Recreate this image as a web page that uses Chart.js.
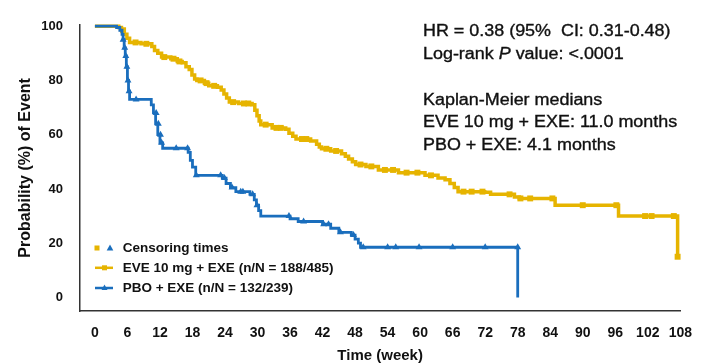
<!DOCTYPE html>
<html><head><meta charset="utf-8">
<script src="https://cdn.jsdelivr.net/npm/chart.js@4/dist/chart.umd.min.js"></script>
<style>html,body{margin:0;padding:0;background:#fff;}#wrap{position:relative;width:706px;height:363px;}canvas{display:block;}</style>
</head><body><div id="wrap"><canvas id="c" width="706" height="363"></canvas></div>
<script>
// ---- data (weeks, % ) ----
const xTickValues = [0,6,12,18,24,30,36,42,48,54,60,66,72,78,84,90,96,102,108];
const yTickValues = [0,20,40,60,80,100];

const eveTimes = [0,4.4,4.9,5.4,5.9,6.4,8.5,10.5,11.0,11.6,12.3,14.0,15.2,16.1,16.8,17.4,17.9,18.4,18.8,20.2,21.0,22.6,23.3,23.8,24.3,24.8,26.5,29.0,29.5,29.9,30.3,30.6,32.7,35.2,35.8,36.5,37.1,39.8,40.9,41.4,41.8,43.5,45.5,46.2,46.8,47.5,48.1,50.0,52.3,56.0,60.9,63.3,64.6,65.5,66.3,67.0,71.9,73.0,77.4,78.3,84.9,96.6,107.5];
const eveSurv  = [100,99.5,98.5,97,95.5,94,93.5,92.5,91,90,88.6,88,87,86.5,85,84,82,80.5,80,79,78,77.5,76.5,75,73.5,72,71.5,71,69,67,65,63.7,62.5,62,60.5,59.4,58.4,57.7,56.5,55.5,54.8,54,53,52,51,50,49,48.3,47,46,45,44,43.4,42,40.5,39,38.8,38,37,36.5,34,30,15];

const pboTimes = [0,4,4.6,5.0,5.2,5.4,5.6,5.8,6.0,6.2,6.4,10.4,10.8,11.2,11.6,12.0,12.5,17.2,17.6,18.0,18.6,23.5,24.2,25.0,26.0,28.6,29.4,29.8,30.2,30.6,36.0,37.5,42.0,43.5,45.0,47.3,48.0,48.6,49.0,78.0];
const pboSurv  = [100,99.5,98.5,97,95,92,89,85,80,76,73,71,68,64,60,57,55,53.5,50.5,48,45,44,42,40.5,39,38,36,34,32,30,29,28,27,25.5,24,23,21.5,20,18.5,0];

const eveCensorTimes = [5.2,7.5,9.5,12.8,14.5,15.6,19.5,20.6,22,25.5,27.5,28.3,31.5,33.5,34.3,38.2,39,42.7,44.5,49,51,53.5,55,57.5,59.5,62,68,69.5,71.5,76.5,78.5,80.3,84.4,90,96.2,101.5,102.7,106.8,107.5];
const eveCensorSurv  = [98.5,94,93.5,88.6,88,87,80,79,78,72,71.5,71.5,63.7,62.5,62.5,58.4,58.4,54.8,54,49,48.3,47,47,46,46,45,39,39,39,38,36.5,36.5,36.5,34,34,30,30,30,15];

const pboCensorTimes = [5.2,5.5,5.7,5.9,6.1,6.3,7.6,11.3,11.7,12.1,12.3,15,17.1,18.7,23.2,23.9,25.3,26.9,27.3,29.1,29.9,35.8,38.5,42.2,43.1,45.3,47.7,49.5,54,55.5,59.8,66,72,78];
const pboCensorSurv  = [95,92,89,85,80,76,73,68,64,60,57,55,55,45,45,44,40.5,39,39,38,34,30,28,27,27,24,23,18.5,18.5,18.5,18.5,18.5,18.5,18.5];

const seriesLabels = ['EVE 10 mg + EXE (n/N = 188/485)', 'PBO + EXE (n/N = 132/239)'];
const censorLabel = 'Censoring times';
const annotationLines = ['HR = 0.38 (95%  CI: 0.31-0.48)', 'Log-rank |P| value: <.0001', '', 'Kaplan-Meier medians', 'EVE 10 mg + EXE: 11.0 months', 'PBO + EXE: 4.1 months'];

const YEL = '#E6B400', BLU = '#1A6EBD', TXT = '#111111';
const zip = (xs, ys) => xs.map((x, i) => ({x, y: ys[i]}));

const overlay = {
  id: 'overlay',
  afterDraw(chart) {
    const ctx = chart.ctx;
    ctx.save();
    // annotation block
    const ax = 423, ay0 = 31.7, lh = 22.4, sx = 1.12;
    ctx.fillStyle = TXT; ctx.strokeStyle = TXT; ctx.lineWidth = 0.35;
    ctx.textBaseline = 'middle'; ctx.textAlign = 'left';
    annotationLines.forEach((line, i) => {
      if (!line) return;
      const y = ay0 + i * lh + (i >= 3 ? 1.5 : 0);
      ctx.save(); ctx.translate(ax, y); ctx.scale(sx, 1);
      let x = 0;
      line.split('|').forEach((part, k) => {
        ctx.font = (k % 2 ? 'italic ' : '') + '16px "Liberation Sans", Arial, sans-serif';
        ctx.fillText(part, x, 0);
        ctx.strokeText(part, x, 0);
        x += ctx.measureText(part).width;
      });
      ctx.restore();
    });
    // legend
    ctx.font = 'bold 13.5px "Liberation Sans", Arial, sans-serif';
    const tx = 122.7, rows = [248, 267.8, 288];
    ctx.fillStyle = YEL; ctx.fillRect(94.5, rows[0] - 2.5, 5, 5);
    ctx.fillStyle = BLU; ctx.beginPath();
    ctx.moveTo(110, rows[0] - 3.5); ctx.lineTo(113.3, rows[0] + 2.5); ctx.lineTo(106.7, rows[0] + 2.5); ctx.closePath(); ctx.fill();
    [[YEL, rows[1]], [BLU, rows[2]]].forEach(([c, y], i) => {
      ctx.strokeStyle = c; ctx.lineWidth = 2.5; ctx.beginPath(); ctx.moveTo(95, y); ctx.lineTo(113, y); ctx.stroke();
      ctx.fillStyle = c;
      if (i === 0) ctx.fillRect(102, y - 2.5, 5, 5);
      else { ctx.beginPath(); ctx.moveTo(104.5, y - 3.5); ctx.lineTo(107.5, y + 2); ctx.lineTo(101.5, y + 2); ctx.closePath(); ctx.fill(); }
    });
    ctx.fillStyle = TXT; ctx.textBaseline = 'middle';
    ctx.fillText(censorLabel, tx, rows[0]);
    ctx.fillText(seriesLabels[0], tx, rows[1]);
    ctx.fillText(seriesLabels[1], tx, rows[2]);
    ctx.restore();
  }
};

new Chart(document.getElementById('c'), {
  type: 'line',
  data: {
    datasets: [
      {label: seriesLabels[0], data: zip(eveTimes, eveSurv), borderColor: YEL, backgroundColor: YEL, borderWidth: 3.5, stepped: 'before', pointRadius: 0, fill: false, clip: false, order: 4},
      {label: 'EVE censored', data: zip(eveCensorTimes, eveCensorSurv), showLine: false, pointStyle: 'rect', pointRadius: 4.2, borderWidth: 0, backgroundColor: YEL, borderColor: YEL, clip: false, order: 3},
      {label: seriesLabels[1], data: zip(pboTimes, pboSurv), borderColor: BLU, backgroundColor: BLU, borderWidth: 2.8, stepped: 'before', pointRadius: 0, fill: false, clip: false, order: 2},
      {label: 'PBO censored', data: zip(pboCensorTimes, pboCensorSurv), showLine: false, pointStyle: 'triangle', pointRadius: 4, borderWidth: 0, backgroundColor: BLU, borderColor: BLU, clip: false, order: 1}
    ]
  },
  options: {
    responsive: false, animation: false, devicePixelRatio: 1,
    layout: {padding: {top: 15, right: 22, left: 0, bottom: 0}},
    plugins: {legend: {display: false}, tooltip: {enabled: false}},
    scales: {
      x: {
        type: 'linear', min: -2.75, max: 108,
        afterBuildTicks: s => { s.ticks = xTickValues.map(v => ({value: v})); },
        afterFit: s => { s.height = 52; },
        grid: {display: false, drawTicks: false},
        border: {display: true, color: '#333', width: 1.5},
        ticks: {padding: 14, color: TXT, autoSkip: false, maxRotation: 0, font: {family: '"Liberation Sans", Arial, sans-serif', weight: 'bold', size: 14}},
        title: {display: true, text: 'Time (week)', color: TXT, padding: {top: 0, bottom: 0}, font: {family: '"Liberation Sans", Arial, sans-serif', weight: 'bold', size: 15, lineHeight: 1}}
      },
      y: {
        type: 'linear', min: -5, max: 100.5,
        afterBuildTicks: s => { s.ticks = yTickValues.map(v => ({value: v})); },
        afterFit: s => { s.width = 80; },
        grid: {display: false, drawTicks: false},
        border: {display: true, color: '#333', width: 1.5},
        ticks: {padding: 17, color: TXT, font: {family: '"Liberation Sans", Arial, sans-serif', weight: 'bold', size: 13}},
        title: {display: true, text: 'Probability (%) of Event', color: TXT, padding: {top: 18, bottom: 0}, font: {family: '"Liberation Sans", Arial, sans-serif', weight: 'bold', size: 16, lineHeight: 1}}
      }
    }
  },
  plugins: [overlay]
});
</script></body></html>
